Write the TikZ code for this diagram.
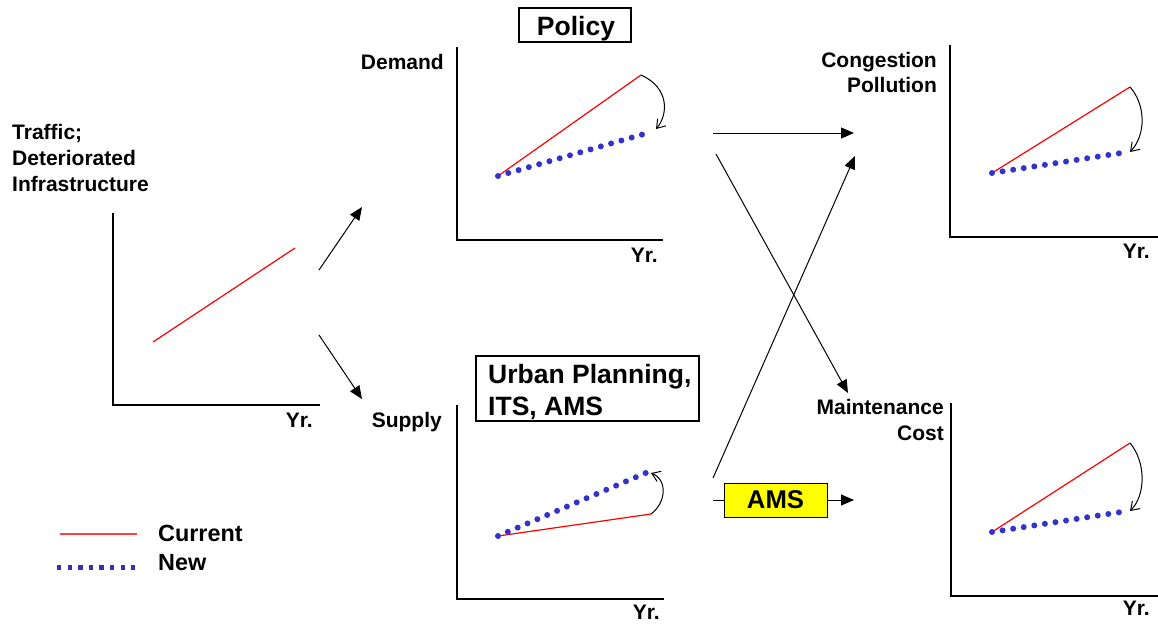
\documentclass[tikz,border=0pt]{standalone}
\usepackage{fontspec}
\setmainfont{Liberation Sans}
\usetikzlibrary{arrows.meta}
\definecolor{newblue}{HTML}{3333CC}
\definecolor{legblue}{HTML}{3A2FB0}
\definecolor{amsyellow}{HTML}{FFFF00}
\tikzset{
  axis/.style={line width=1.4pt, black},
  current/.style={line width=1.2pt, red},
  newline/.style={newblue, line width=6pt, line cap=round, dash pattern=on 0pt off 10.7pt},
  changearrow/.style={line width=1pt, -{Straight Barb[length=8pt,width=11pt]}},
  flow/.style={line width=1pt, -{Triangle[length=13pt,width=11pt]}},
  lbl/.style={font=\fontsize{21}{25}\selectfont\bfseries, inner sep=0pt},
  bigtext/.style={font=\fontsize{26.5}{33}\selectfont\bfseries, inner sep=0pt},
  legtext/.style={font=\fontsize{23.4}{28}\selectfont\bfseries, inner sep=0pt},
}
\begin{document}
\begin{tikzpicture}[x=1pt,y=-1pt]
\useasboundingbox (0,0) rectangle (1158,630);

% ---------- chart: traffic / infrastructure ----------
\coordinate (t0) at (113,213);
\coordinate (to) at (113,405);
\coordinate (tx) at (320,405);
\draw[axis] (t0) -- (to) -- (tx);
\coordinate (ta) at (153,342);
\coordinate (tb) at (295,248);
\draw[current] (ta) -- (tb);
\node[lbl, anchor=base west] (traffic) at (12,139) {Traffic;};
\node[lbl, anchor=base west] (det) at (12,165) {Deteriorated};
\node[lbl, anchor=base west] (infra) at (12,191) {Infrastructure};
\node[lbl, anchor=base east] (yr1) at (313,427) {Yr.};

% ---------- chart: demand ----------
\coordinate (d0) at (457,47);
\coordinate (do) at (457,240);
\coordinate (dx) at (663,240);
\draw[axis] (d0) -- (do) -- (dx);
\coordinate (da) at (498,176);
\coordinate (db) at (641,75);
\coordinate (dc) at (644,134);
\draw[current] (da) -- (db);
\draw[newline] (da) -- (dc);
\draw[changearrow] (db) .. controls (670,88) and (668,115) .. (656,129);
\node[lbl, anchor=base east] (demand) at (444,69) {Demand};
\node[lbl, anchor=base east] (yr2) at (658,262) {Yr.};
\node[draw, line width=1.3pt, minimum width=112pt, minimum height=34pt, inner sep=0pt] (policy) at (575,25) {};
\node[bigtext, anchor=base] (policytext) at (576,35) {Policy};

% ---------- chart: supply ----------
\coordinate (s0) at (457,405);
\coordinate (so) at (457,599);
\coordinate (sx) at (664,599);
\draw[axis] (s0) -- (so) -- (sx);
\coordinate (sa) at (498,536);
\coordinate (sb) at (651,514);
\coordinate (sc) at (648,472);
\draw[current] (sa) -- (sb);
\draw[newline] (sa) -- (sc);
\draw[changearrow] (sb) .. controls (666,503) and (668,480) .. (651,473);
\node[lbl, anchor=base east] (supply) at (442,427) {Supply};
\node[lbl, anchor=base east] (yr3) at (660,619) {Yr.};
\node[draw, line width=1.3pt, minimum width=223pt, minimum height=65pt, inner sep=0pt] (plan) at (587.5,388.5) {};
\node[bigtext, anchor=base west] (plan1) at (488,383) {Urban Planning,};
\node[bigtext, anchor=base west] (plan2) at (488,415) {ITS, AMS};

% ---------- chart: congestion / pollution ----------
\coordinate (c0) at (950,45);
\coordinate (co) at (950,237);
\coordinate (cx) at (1158,237);
\draw[axis] (c0) -- (co) -- (cx);
\coordinate (ca) at (992,173);
\coordinate (cb) at (1130,87);
\coordinate (cc) at (1121,153);
\draw[current] (ca) -- (cb);
\draw[newline] (ca) -- (cc);
\draw[changearrow] (cb) .. controls (1146,105) and (1146,135) .. (1130,152);
\node[lbl, anchor=base east] (cong) at (937,67) {Congestion};
\node[lbl, anchor=base east] (poll) at (937,92) {Pollution};
\node[lbl, anchor=base east] (yr4) at (1150,258) {Yr.};

% ---------- chart: maintenance cost ----------
\coordinate (m0) at (951,403);
\coordinate (mo) at (951,596);
\coordinate (mx) at (1158,596);
\draw[axis] (m0) -- (mo) -- (mx);
\coordinate (ma) at (992,532);
\coordinate (mb) at (1130,443);
\coordinate (mc) at (1121,512);
\draw[current] (ma) -- (mb);
\draw[newline] (ma) -- (mc);
\draw[changearrow] (mb) .. controls (1146,462) and (1146,495) .. (1130,511);
\node[lbl, anchor=base east] (maint) at (944,414) {Maintenance};
\node[lbl, anchor=base east] (cost) at (944,440) {Cost};
\node[lbl, anchor=base east] (yr5) at (1150,615) {Yr.};

% ---------- flow arrows ----------
\coordinate (f1s) at (319,270);
\coordinate (f1e) at (362,207);
\coordinate (f2s) at (319,335);
\coordinate (f2e) at (362,399);
\draw[flow] (f1s) -- (f1e);
\draw[flow] (f2s) -- (f2e);
\coordinate (f3s) at (713,133);
\coordinate (f3e) at (854,133);
\draw[flow] (f3s) -- (f3e);
\coordinate (f4s) at (716,154);
\coordinate (f4e) at (848,393);
\draw[flow] (f4s) -- (f4e);
\coordinate (f5s) at (713,478);
\coordinate (f5e) at (855,156);
\draw[flow] (f5s) -- (f5e);

% AMS box on the lower path
\node[draw, line width=1pt, fill=amsyellow, minimum width=103pt, minimum height=34pt, inner sep=0pt,
      font=\fontsize{25.7}{30}\selectfont\bfseries] (ams) at (775.5,500) {AMS};
\coordinate (f6s) at (713,500);
\coordinate (f6e) at (854,500);
\draw[line width=1pt] (f6s) -- (ams.west);
\draw[flow] (ams.east) -- (f6e);

% ---------- legend ----------
\coordinate (l1a) at (60,534);
\coordinate (l1b) at (137,534);
\draw[line width=1.3pt, red!75!white] (l1a) -- (l1b);
\coordinate (l2a) at (57,567);
\coordinate (l2b) at (135,567);
\draw[legblue, line width=5pt, dash pattern=on 4.4pt off 6.2pt] (l2a) -- (l2b);
\node[legtext, anchor=base west] (lcur) at (158,541) {Current};
\node[legtext, anchor=base west] (lnew) at (158,570) {New};
\end{tikzpicture}
\end{document}
